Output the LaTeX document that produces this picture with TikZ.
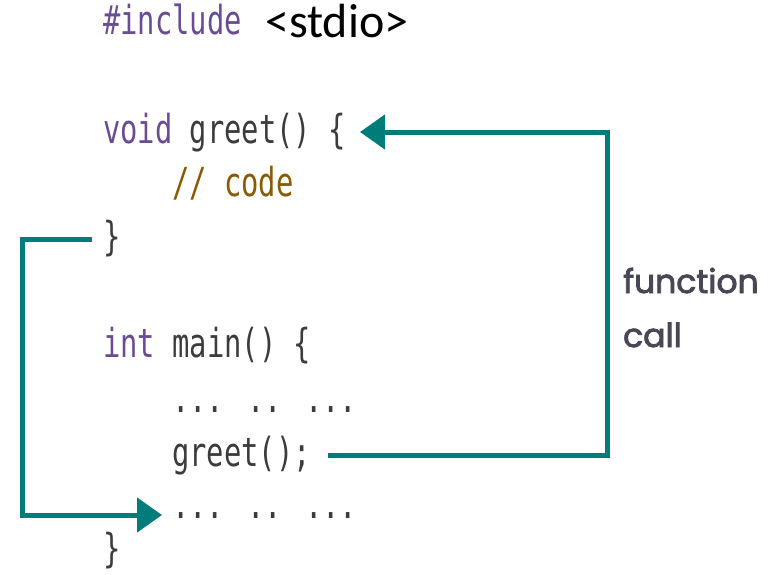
\documentclass[tikz,border=0pt]{standalone}
\usepackage{fontspec}
\usetikzlibrary{arrows.meta}
\newfontfamily\codefont{DejaVu Sans Mono}[FakeStretch=0.72]
\newfontfamily\calfont{Carlito}
\newfontfamily\lblfont{Poppins}[FakeBold=2.5]
\definecolor{teal1}{HTML}{007C7A}
\definecolor{kw}{HTML}{6A4C93}
\definecolor{codegray}{HTML}{3C3C3C}
\definecolor{cmt}{HTML}{8A5A00}
\definecolor{lblgray}{HTML}{474756}
\tikzset{
  code/.style={anchor=base west, inner sep=0pt, font=\codefont\fontsize{40}{40}\selectfont, text=codegray},
  lbl/.style={anchor=base west, inner sep=0pt, font=\lblfont\fontsize{33}{33}\selectfont, text=lblgray},
  conn/.style={draw=teal1, line width=5pt},
  arr/.style={conn, -{Triangle[length=25pt,width=34pt]}}
}
\begin{document}
\begin{tikzpicture}[x=1pt,y=-1pt]
\useasboundingbox (0,0) rectangle (773,575);
\node[code, text=kw] (inc) at (103,35) {\#include};
\node[anchor=base west, inner sep=0pt, font=\calfont\fontsize{48}{48}\selectfont] (std) at (265,38) {<stdio>};
\node[code] (l1) at (103,143) {\textcolor{kw}{void} greet() \{};
\node[code, text=cmt] (l2) at (172,196) {// code};
\node[code] (l3) at (103,250) {\}};
\node[code] (l4) at (103,357) {\textcolor{kw}{int} main() \{};
\node[code] (l5) at (172,412) {... .. ...};
\node[code] (l6) at (172,466) {greet();};
\node[code] (l7) at (172,518) {... .. ...};
\node[code] (l8) at (103,562) {\}};
\node[lbl] (f1) at (623,293) {function};
\node[lbl] (f2) at (623,347) {call};
\coordinate (a1) at (328,455);
\coordinate (r1) at (607,455);
\coordinate (r2) at (607,132);
\coordinate (t1) at (360,132);
\draw[arr] (a1) -- (r1) -- (r2) -- (t1);
\coordinate (b1) at (92,239);
\coordinate (b2) at (22,239);
\coordinate (b3) at (22,515);
\coordinate (t2) at (162,515);
\draw[arr] (b1) -- (b2) -- (b3) -- (t2);
\end{tikzpicture}
\end{document}
